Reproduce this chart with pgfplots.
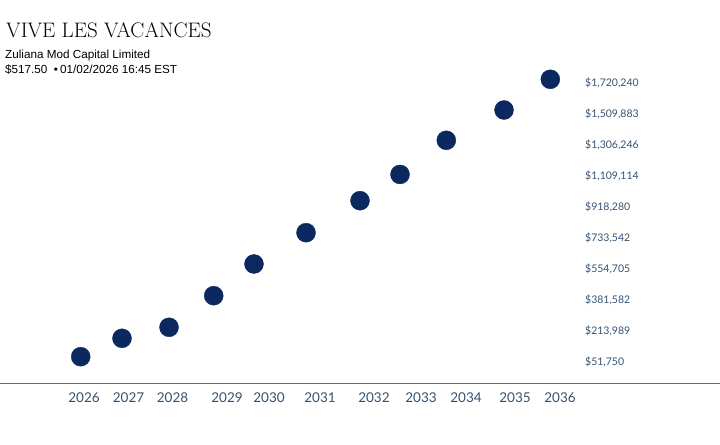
\documentclass[border=0pt]{standalone}
\usepackage{fontspec}
\usepackage{pgfplots}
\pgfplotsset{compat=1.18}
\newfontfamily\subfont{Liberation Sans}
\newfontfamily\tickfont{Lato}
\definecolor{dotblue}{RGB}{11,40,95}
\definecolor{ticktext}{RGB}{52,82,112}
\definecolor{axisgray}{RGB}{95,108,118}
\begin{document}
\begin{tikzpicture}
\useasboundingbox (0,0) rectangle (720bp,445bp);
\begin{axis}[
  at={(0bp,61.7bp)}, anchor=south west,
  width=720bp, height=383.3bp, scale only axis,
  xmin=2024.235, xmax=2039.361,
  ymin=-108241, ymax=2197193,
  axis x line*=bottom, axis y line*=right,
  x axis line style={draw=axisgray, line width=0.9bp, -},
  y axis line style={draw=none},
  major tick length=0pt,
  clip=false,
  xtick={2026,2026.935,2027.859,2029.004,2029.887,2030.958,2032.092,2033.080,2034.025,2035.055,2036},
  xticklabels={2026,2027,2028,2029,2030,2031,2032,2033,2034,2035,2036},
  xticklabel style={font=\tickfont\fontsize{13.5bp}{15bp}\selectfont, text=ticktext, anchor=center, inner sep=0pt, yshift=-14.7bp},
  ytick={1699778,1513322,1326866,1140411,953955,767499,581044,394588,208132,21676},
  yticklabels={{\$1,720,240},{\$1,509,883},{\$1,306,246},{\$1,109,114},{\$918,280},{\$733,542},{\$554,705},{\$381,582},{\$213,989},{\$51,750}},
  yticklabel style={font=\tickfont\fontsize{10.5bp}{12bp}\selectfont, text=ticktext, anchor=west, inner sep=0pt, xshift=-135bp},
  scaled y ticks=false,
]
\addplot[only marks, mark=*, mark size=9.5bp, mark options={fill=dotblue, draw=dotblue}] coordinates {
(2025.931,51750)
(2026.798,162420)
(2027.786,228582)
(2028.725,418647)
(2029.571,609313)
(2030.664,797573)
(2031.798,990043)
(2032.639,1148000)
(2033.611,1353331)
(2034.824,1535576)
(2035.796,1720240)
};
\end{axis}
\node[anchor=base west, inner sep=0pt] at (6bp,407.3bp) {\fontsize{21bp}{24bp}\selectfont VIVE LES VACANCES};
\node[anchor=base west, inner sep=0pt] at (5bp,386bp) {\subfont\fontsize{11.7bp}{13bp}\selectfont Zuliana Mod Capital Limited};
\node[anchor=base west, inner sep=0pt] at (5bp,371bp) {\subfont\fontsize{11.7bp}{13bp}\selectfont \$517.50 \ \textbullet\,01/02/2026 16:45 EST};
\end{tikzpicture}
\end{document}
